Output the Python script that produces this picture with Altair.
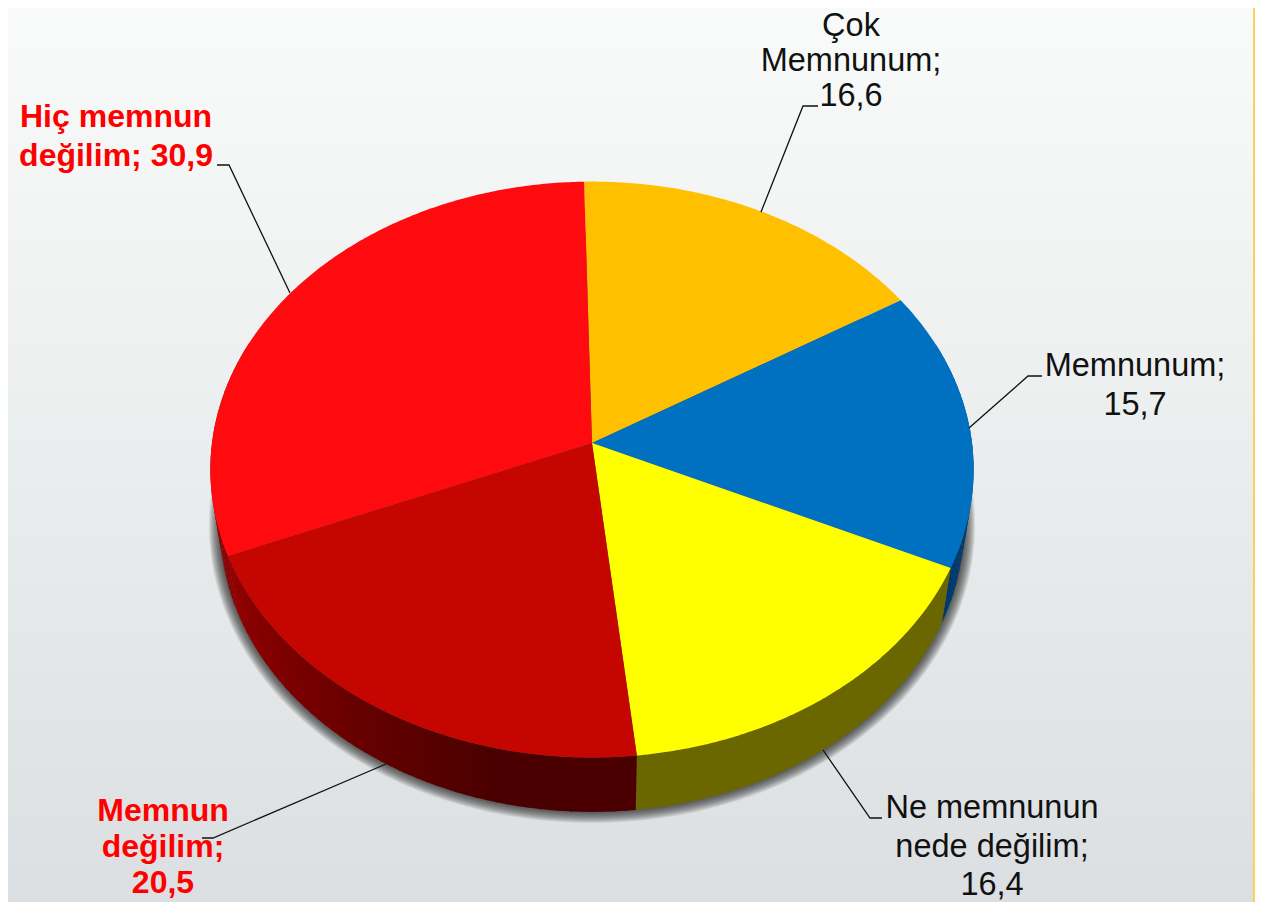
import math
import altair as alt

# ---- chart values ----
categories = ["Çok Memnunum", "Memnunum", "Ne memnunun nede değilim", "Memnun değilim", "Hiç memnun değilim"]
values = [16.6, 15.7, 16.4, 20.5, 30.9]
top_colors = ["#FFC000", "#0070C0", "#FFFF00", "#C40500", "#FF0A0E"]
wall_colors = ["#A88000", "#00396B", "#6B6700", "#800000", "#8E0000"]

label_lines = [
    ["Çok", "Memnunum;", "16,6"],
    ["Memnunum;", "15,7"],
    ["Ne memnunun", "nede değilim;", "16,4"],
    ["Memnun", "değilim;", "20,5"],
    ["Hiç memnun", "değilim; 30,9"],
]
label_bold = [False, False, False, True, True]
label_color = ["#111111", "#111111", "#111111", "#FF0000", "#FF0000"]
label_center = [851, 1135, 992, 163, 116]
label_baseline = [36, 376, 818, 821, 127]
label_step = [35, 38.5, 38.5, 36, 38.5]
leaders = [
    [(818, 106), (803, 106), (761, 212)],
    [(1042, 376), (1028, 376), (969, 428)],
    [(882, 818), (870, 818), (823, 750)],
    [(202, 838), (213, 838), (386, 764)],
    [(217, 165), (229, 165), (290, 293)],
]

# ---- page geometry ----
W, H = 1247, 894
CX, CY, SX, SY, K = 592.0, 443.0, 380.0, 285.5, 0.0922
START = -1.3
DEPTH, WALL_SX, WALL_SY = 56.0, 0.975, 0.995


def top_pt(deg):
    a = math.radians(deg)
    X, Y = math.sin(a), math.cos(a)
    w = 1 + K * Y
    return (CX + SX * X / w, CY - SY * Y / w)


def bottom_pt(deg, grow=0.0):
    a = math.radians(deg)
    X, Y = math.sin(a), math.cos(a)
    w = 1 + K * Y
    return (CX + (SX * WALL_SX * X / w) + grow * X,
            CY + DEPTH - (SY * WALL_SY * Y / w) - grow * Y)


def feature(ring, fill, opacity=1.0):
    ring = [list(p) for p in ring]
    ring.append(ring[0])
    return {"type": "Feature", "geometry": {"type": "Polygon", "coordinates": [ring]},
            "properties": {}, "fill": fill, "op": opacity}


def mix(c1, c2, t):
    a = [int(c1[i:i + 2], 16) for i in (1, 3, 5)]
    b = [int(c2[i:i + 2], 16) for i in (1, 3, 5)]
    return "#%02x%02x%02x" % tuple(round(x + (y - x) * t) for x, y in zip(a, b))


total = sum(values)
edges = [START]
for v in values:
    edges.append(edges[-1] + v / total * 360)

# shadow: stacked translucent copies of the lower rim
shadow = []
for g in range(11, 0, -1):
    shadow.append(feature([bottom_pt(d, g) for d in range(0, 360, 2)], "#202020", 0.095))

# side wall
walls = []
for i, c in enumerate(wall_colors):
    lo, hi = edges[i], edges[i + 1]
    n = max(2, int((hi - lo) / 1.5))
    for j in range(n):
        d0 = lo + (hi - lo) * j / n
        d1 = lo + (hi - lo) * (j + 1.15) / n
        d1 = min(d1, hi)
        if math.cos(math.radians(d0)) > 0.35 and math.cos(math.radians(d1)) > 0.35:
            continue
        col = c
        if i == 3:  # shading of the dark red wall, darker towards the front
            t = min(1.0, max(0.0, (edges[4] - d0) / 55.0))
            col = mix("#940000", "#4A0000", t)
        walls.append(feature([top_pt(d0), top_pt(d1), bottom_pt(d1), bottom_pt(d0)], col))

# top face
tops = []
for i, c in enumerate(top_colors):
    lo, hi = edges[i], edges[i + 1]
    n = int((hi - lo) / 0.5) + 1
    ring = [(CX, CY)] + [top_pt(lo + (hi - lo) * j / n) for j in range(n + 1)]
    tops.append(feature(ring, c))

projection = alt.Projection(type="identity", scale=1, translate=[-8, -8])


def geo(feats):
    return (alt.Chart(alt.Data(values=feats))
            .mark_geoshape(strokeWidth=0, stroke=None)
            .encode(fill=alt.Fill("fill:N", scale=None, legend=None),
                    opacity=alt.Opacity("op:Q", scale=None, legend=None))
            .project(**projection.to_dict()))


x_scale = alt.Scale(domain=[8, 8 + W], nice=False, zero=False)
y_scale = alt.Scale(domain=[8 + H, 8], nice=False, zero=False)
X = alt.X("x:Q", scale=x_scale, axis=None)
Y = alt.Y("y:Q", scale=y_scale, axis=None)

background = alt.Chart(alt.Data(values=[{"a": 1}])).mark_rect(
    fill=alt.LinearGradient(gradient="linear", x1=0, y1=0, x2=0, y2=1,
                            stops=[alt.GradientStop(color="#F9FBFA", offset=0),
                                   alt.GradientStop(color="#E9ECEC", offset=0.55),
                                   alt.GradientStop(color="#DCDFE1", offset=1)])
).encode(x=alt.value(0), x2=alt.value(W), y=alt.value(0), y2=alt.value(H))

strip = alt.Chart(alt.Data(values=[{"a": 1}])).mark_rect(fill="#FFCF5C").encode(
    x=alt.value(W - 2), x2=alt.value(W), y=alt.value(0), y2=alt.value(H))

leader_rows = [{"k": i, "o": j, "x": p[0], "y": p[1]} for i, line in enumerate(leaders) for j, p in enumerate(line)]
leader_chart = alt.Chart(alt.Data(values=leader_rows)).mark_line(color="#111111", strokeWidth=1.3).encode(
    x=X, y=Y, detail="k:N", order="o:Q")

text_rows = []
for i, lines in enumerate(label_lines):
    for j, s in enumerate(lines):
        text_rows.append({"t": s, "x": label_center[i], "y": label_baseline[i] + j * label_step[i],
                          "c": label_color[i], "w": "bold" if label_bold[i] else "normal"})
regular = [r for r in text_rows if r["w"] == "normal"]
bold = [r for r in text_rows if r["w"] == "bold"]


def texts(rows, weight, size):
    return alt.Chart(alt.Data(values=rows)).mark_text(
        font="Liberation Sans", fontSize=size, fontWeight=weight, align="center", baseline="alphabetic"
    ).encode(x=X, y=Y, text="t:N", color=alt.Color("c:N", scale=None, legend=None))


chart = alt.layer(
    background, strip, geo(shadow), geo(walls), geo(tops), leader_chart,
    texts(regular, "normal", 32.5), texts(bold, "bold", 32),
).properties(width=W, height=H, padding=0, autosize=alt.AutoSizeParams(type="none")
).configure_view(stroke=None)

chart.save("out.html", embed_options={"renderer": "svg", "actions": False})
